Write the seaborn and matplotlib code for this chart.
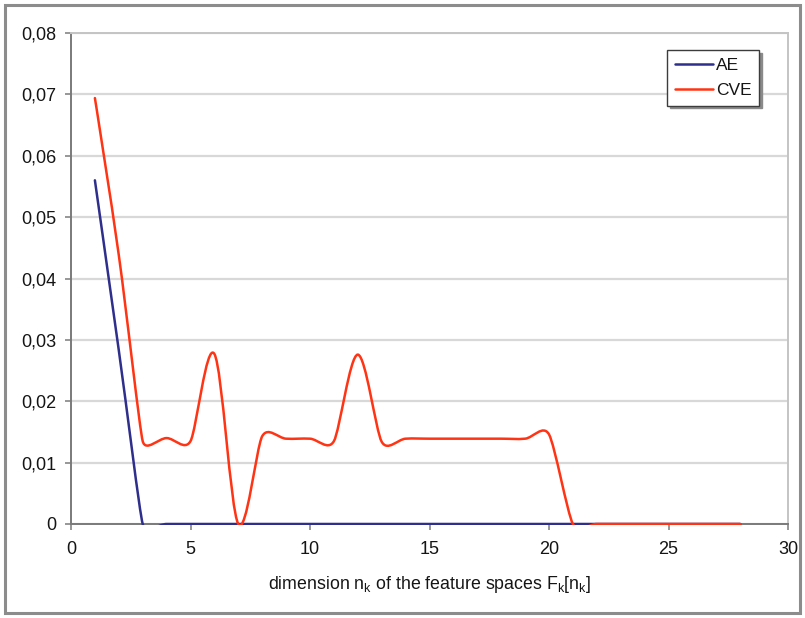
import matplotlib
matplotlib.use("Agg")
import numpy as np
import pandas as pd
import seaborn as sns
import matplotlib.pyplot as plt
from matplotlib.path import Path
from matplotlib.patches import PathPatch, Rectangle
from matplotlib.lines import Line2D
from matplotlib.ticker import FuncFormatter

# Feature-space dimension and the two error measures
dims = list(range(1, 29))
ae_err = [0.0560, 0.0283, 0.0000, 0.0000, 0.0000, 0.0000, 0.0000, 0.0000,
          0.0000, 0.0000, 0.0000, 0.0000, 0.0000, 0.0000, 0.0000, 0.0000,
          0.0000, 0.0000, 0.0000, 0.0000, 0.0000, 0.0000, 0.0000, 0.0000,
          0.0000, 0.0000, 0.0000, 0.0000]
cve_err = [0.0694, 0.0438, 0.0135, 0.0140, 0.0135, 0.0277, 0.0000, 0.0143,
           0.0139, 0.0139, 0.0135, 0.0276, 0.0134, 0.0139, 0.0139, 0.0139,
           0.0139, 0.0139, 0.0139, 0.0146, 0.0000, 0.0000, 0.0000, 0.0000,
           0.0000, 0.0000, 0.0000, 0.0000]
series_names = ["AE", "CVE"]
series_colors = {"AE": "#2e2e8c", "CVE": "#ff3414"}

x_ticks = [0, 5, 10, 15, 20, 25, 30]
y_ticks = [0, 0.01, 0.02, 0.03, 0.04, 0.05, 0.06, 0.07, 0.08]
x_label = r"dimension $\mathregular{n_k}$ of the feature spaces $\mathregular{F_k[n_k]}$"

df = pd.DataFrame({
    "dim": dims * 2,
    "err": ae_err + cve_err,
    "series": ["AE"] * len(dims) + ["CVE"] * len(dims),
})

sns.set_theme(style="white")
plt.rcParams["font.family"] = ["Liberation Sans", "DejaVu Sans"]
plt.rcParams["mathtext.fontset"] = "custom"
plt.rcParams["mathtext.rm"] = "Liberation Sans"

W, H = 805, 618
fig = plt.figure(figsize=(W / 100, H / 100), dpi=100)
ax = fig.add_axes([71 / W, 1 - 524 / H, (788 - 71) / W, (524 - 33) / H])
ax.set_xlim(0, 30)
ax.set_ylim(0, 0.08)

sns.lineplot(data=df, x="dim", y="err", hue="series", hue_order=series_names,
             palette=series_colors, ax=ax, legend=False, linewidth=1.8)


def smooth_path(xs, ys):
    """Cubic Bezier through every point (spreadsheet-style smoothing):
    tangent along the neighbour chord, length d02/6 capped at half of the
    shorter adjacent segment, all measured in screen space."""
    pts = ax.transData.transform(np.column_stack([xs, ys]))
    n = len(pts)

    def controls(i):
        prev = pts[max(i - 1, 0)]
        nxt = pts[min(i + 1, n - 1)]
        t = nxt - prev
        d02 = np.hypot(*t)
        if d02 == 0:
            return pts[i], pts[i]
        d01 = np.hypot(*(pts[i] - prev))
        d12 = np.hypot(*(nxt - pts[i]))
        length = min(d02 / 6, d01 / 2, d12 / 2)
        u = t / d02
        return pts[i] - u * length, pts[i] + u * length

    verts = [pts[0]]
    codes = [Path.MOVETO]
    for i in range(n - 1):
        _, c1 = controls(i)
        c2, _ = controls(i + 1)
        verts += [c1, c2, pts[i + 1]]
        codes += [Path.CURVE4] * 3
    data_verts = ax.transData.inverted().transform(np.array(verts))
    return Path(data_verts, codes)


# Clip region reaches a hair below zero so lines lying on the axis stay whole
clip_box = Rectangle((0, -0.00022), 30, 0.09, transform=ax.transData,
                     facecolor="none", edgecolor="none")

# Replace the straight polylines with smoothed curves in the same colours
for line, name in zip(list(ax.lines), series_names):
    xd, yd = line.get_xdata(), line.get_ydata()
    line.set_visible(False)
    patch = PathPatch(smooth_path(xd, yd), facecolor="none",
                      edgecolor=series_colors[name], lw=1.8, zorder=3,
                      capstyle="round", joinstyle="round")
    ax.add_patch(patch)
    patch.set_clip_path(clip_box)

# Axes styling
ax.set_xticks(x_ticks)
ax.set_yticks(y_ticks)
ax.yaxis.set_major_formatter(FuncFormatter(
    lambda v, _: "0" if abs(v) < 1e-12 else f"{v:.2f}".replace(".", ",")))
ax.xaxis.set_major_formatter(FuncFormatter(lambda v, _: f"{v:g}"))
ax.grid(axis="y", color="#d8d8d8", linewidth=1.6)
ax.grid(axis="x", visible=False)
ax.set_axisbelow(True)
for side in ("left", "bottom"):
    ax.spines[side].set_color("#7a7a7a")
    ax.spines[side].set_linewidth(1.4)
    ax.spines[side].set_zorder(2.5)
for side in ("top", "right"):
    ax.spines[side].set_color("#c4c4c4")
    ax.spines[side].set_linewidth(1.4)
ax.tick_params(axis="both", direction="out", length=4.5, width=1.1,
               color="#7a7a7a", labelsize=13, labelcolor="#151515")
ax.tick_params(axis="y", pad=6, left=True)
ax.tick_params(axis="x", pad=8, bottom=True)
ax.set_xlabel(x_label, fontsize=12.8, color="#151515", labelpad=11)
ax.set_ylabel("")

handles = [Line2D([], [], color=series_colors[n], lw=1.8) for n in series_names]
leg = ax.legend(handles, series_names, loc="upper right",
                bbox_to_anchor=(0.960, 0.965), frameon=True, fancybox=False,
                shadow={"ox": 2, "oy": -2, "color": "#8a8a8a", "alpha": 1},
                fontsize=12.5, handlelength=2.2, handletextpad=0.15,
                borderpad=0.45, labelspacing=0.55, borderaxespad=0)
leg.get_frame().set_edgecolor("#3c3c3c")
leg.get_frame().set_linewidth(1.0)
for txt in leg.get_texts():
    txt.set_color("#151515")

# Outer chart border
fig.patches.append(Rectangle((5 / W, 5 / H), (800 - 5) / W, (613 - 5) / H,
                             transform=fig.transFigure, fill=False,
                             edgecolor="#8c8c8c", linewidth=2.2))

fig.savefig("out.png", dpi=100)
